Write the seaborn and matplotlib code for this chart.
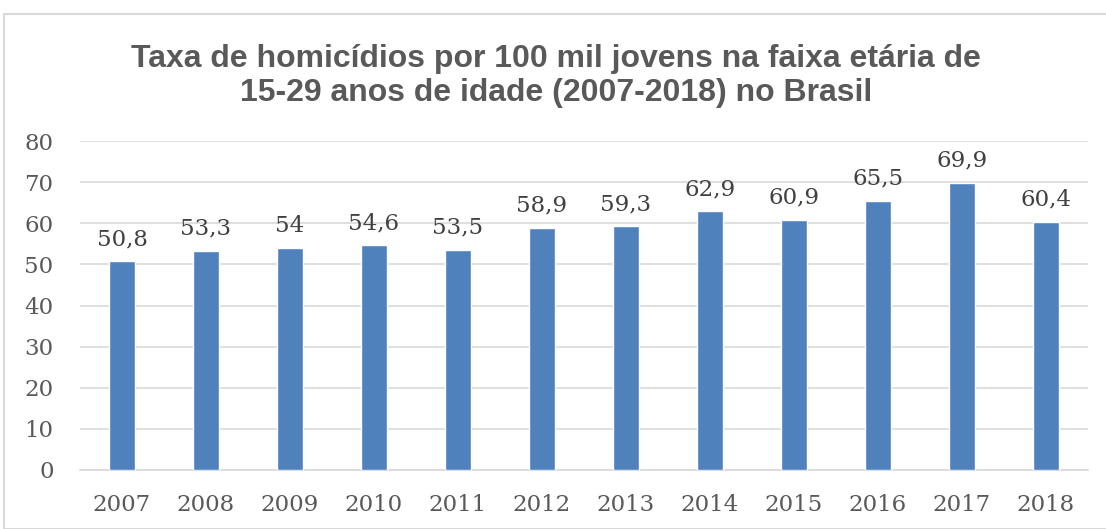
import matplotlib
matplotlib.use("Agg")
import matplotlib.pyplot as plt
import seaborn as sns
import pandas as pd
from matplotlib.patches import Rectangle

years = ["2007", "2008", "2009", "2010", "2011", "2012", "2013", "2014", "2015", "2016", "2017", "2018"]
rates = [50.8, 53.3, 54.0, 54.6, 53.5, 58.9, 59.3, 62.9, 60.9, 65.5, 69.9, 60.4]
labels = ["50,8", "53,3", "54", "54,6", "53,5", "58,9", "59,3", "62,9", "60,9", "65,5", "69,9", "60,4"]
title = "Taxa de homicídios por 100 mil jovens na faixa etária de\n15-29 anos de idade (2007-2018) no Brasil"

df = pd.DataFrame({"ano": years, "taxa": rates})

sns.set_theme(style="white")
plt.rcParams['font.family'] = ['DejaVu Serif']

fig = plt.figure(figsize=(11.06, 5.29), dpi=100)
ax = fig.add_axes([80/1106, 1 - 470/529, 1008/1106, (470-141)/529])

sns.barplot(data=df, x="ano", y="taxa", color="#4F81BD", saturation=1, width=0.31, ax=ax, zorder=3)

ax.set_ylim(0, 80)
ax.set_yticks(range(0, 81, 10))
ax.set_xlim(-0.5, 11.5)
ax.grid(axis="y", color="#D9D9D9", linewidth=1.2, zorder=0)
ax.set_axisbelow(True)
for s in ["top", "right", "left"]:
    ax.spines[s].set_visible(False)
ax.spines["bottom"].set_color("#D9D9D9")
ax.spines["bottom"].set_linewidth(1.2)
ax.set_xlabel("")
ax.set_ylabel("")
ax.tick_params(axis="both", length=0, labelsize=16.5, labelcolor="#595959")
ax.tick_params(axis="y", pad=19)
ax.tick_params(axis="x", pad=17)

for i, (v, lab) in enumerate(zip(rates, labels)):
    ax.annotate(lab, (i, v), xytext=(0, 8), textcoords="offset points",
                ha="center", va="bottom", fontsize=16.5, color="#404040")

fig.text(556/1106, 1 - 76/529, title, ha="center", va="center", fontsize=23,
         fontweight="bold", color="#595959", family="Liberation Sans", linespacing=1.2)

border = Rectangle((4/1106, 0), 1.2, 1 - 14/529, transform=fig.transFigure,
                   fill=False, edgecolor="#D9D9D9", linewidth=1.5)
fig.patches.append(border)

fig.savefig("out.png", dpi=100)
